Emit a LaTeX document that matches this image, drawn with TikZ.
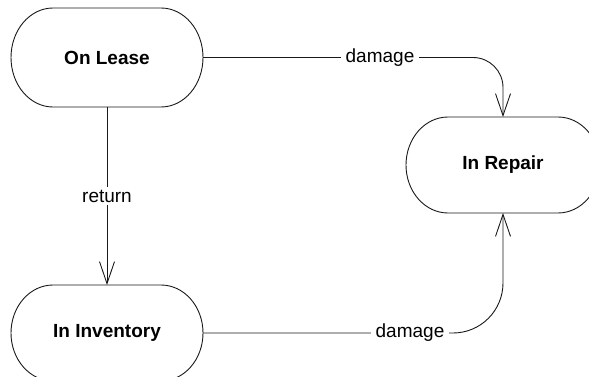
\documentclass[tikz,border=0pt]{standalone}
\usepackage{fontspec}
\setmainfont{Liberation Sans}
\usetikzlibrary{arrows.meta,calc}
\tikzset{
  state/.style={draw=none,inner sep=0pt,outer sep=0pt,font=\fontsize{19}{22}\selectfont\bfseries},
  lbl/.style={fill=white,inner xsep=5pt,inner ysep=3pt,font=\fontsize{19}{22}\selectfont},
  conn/.style={line width=0.9pt,draw=black!90,-{Straight Barb[length=22pt,width=15pt,line width=0.9pt]}},
  outline/.style={line width=0.9pt,draw=black!90}
}
\newcommand{\stadiumshape}[3]{% name, x radius, y radius
  \draw[outline] ([xshift=#2]#1.north west) -- ([xshift=-#2]#1.north east)
    arc[start angle=90,end angle=-90,x radius=#2,y radius=#3]
    -- ([xshift=#2]#1.south west)
    arc[start angle=270,end angle=90,x radius=#2,y radius=#3] -- cycle;}
\begin{document}
\begin{tikzpicture}[x=1pt,y=-1pt]
\useasboundingbox (0,0) rectangle (589,377);
\node[state,minimum width=192pt,minimum height=99pt] (lease) at (107,57.5) {On Lease};
\node[state,minimum width=192pt,minimum height=96pt] (inv) at (107,333) {In Inventory};
\node[state,minimum width=194pt,minimum height=96pt] (repair) at (503,165) {In Repair};
\stadiumshape{lease}{42pt}{49.5pt}
\stadiumshape{inv}{42pt}{48pt}
\stadiumshape{repair}{42pt}{48pt}
\draw[conn,rounded corners=30pt] (lease.east) -- (lease.east -| repair.north) -- (repair.north);
\draw[conn,rounded corners=50pt] (inv.east) -- (inv.east -| repair.south) -- (repair.south);
\draw[conn] (lease.south) -- (inv.north);
\node[lbl] (l1) at ($(lease.east)!0.59!(lease.east -| repair.north)$) {damage};
\node[lbl] (l2) at ($(inv.east)!0.69!(inv.east -| repair.south)$) {damage};
\node[lbl] (l3) at ($(lease.south)!0.5!(inv.north)$) {return};
\end{tikzpicture}
\end{document}
